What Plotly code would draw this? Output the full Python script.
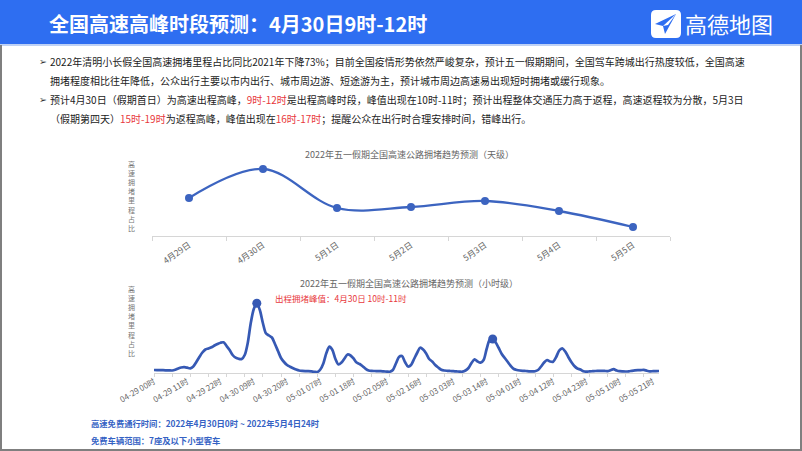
import plotly.graph_objects as go

W, H = 802, 451
def px(x):
    return x / W
def py(y):
    return 1 - y / H

FONT = "Noto Sans CJK SC"

# ---------------- data ----------------
days = ["4月29日", "4月30日", "5月1日", "5月2日", "5月3日", "5月4日", "5月5日"]
daily_values = [38.0, 67.0, 28.0, 29.0, 35.0, 25.0, 9.0]

dates = ["04-29", "04-30", "05-01", "05-02", "05-03", "05-04", "05-05"]
hour_labels = [f"{d} {h:02d}时" for d in dates for h in range(24)]

hourly_values = [
    # 04-29
    3.0, 2.9, 2.8, 2.8, 2.7, 2.6, 2.5, 3.2, 4.5, 5.5, 5.8, 5.3,
    4.7, 6.5, 11.0, 16.0, 20.5, 23.5, 24.5, 25.7, 27.5, 29.0, 30.3, 30.7,
    # 04-30
    27.0, 23.0, 18.0, 15.3, 14.2, 14.0, 18.0, 30.0, 50.0, 64.0, 69.7, 63.0,
    50.0, 39.7, 37.5, 35.5, 29.0, 22.0, 15.0, 11.0, 8.0, 6.3, 4.8, 3.5,
    # 05-01
    2.5, 2.1, 1.9, 1.8, 1.6, 1.2, 1.0, 3.5, 9.5, 20.0, 26.3, 23.0,
    14.0, 8.5, 10.5, 14.5, 18.5, 17.5, 14.5, 10.5, 9.0, 6.8, 4.2, 2.5,
    # 05-02
    2.1, 2.0, 1.9, 1.8, 1.6, 1.4, 1.3, 3.0, 9.5, 16.0, 17.0, 11.0,
    6.5, 8.0, 14.0, 20.0, 25.3, 23.5, 19.5, 14.0, 11.5, 8.0, 5.5, 3.2,
    # 05-03
    2.5, 2.2, 2.0, 1.8, 1.6, 1.4, 1.3, 2.5, 5.0, 10.0, 13.7, 11.5,
    10.3, 13.0, 24.0, 33.0, 34.0, 30.5, 25.0, 19.0, 15.0, 11.0, 7.0, 4.0,
    # 05-04
    3.0, 2.5, 2.2, 2.0, 1.7, 1.6, 1.8, 3.0, 6.5, 10.5, 13.0, 11.5,
    11.3, 16.0, 22.5, 24.7, 21.5, 16.0, 11.0, 7.0, 4.5, 3.5, 1.8, 1.3,
    # 05-05
    1.6, 1.8, 2.0, 2.1, 2.2, 2.1, 1.9, 2.8, 3.8, 2.5, 1.8, 1.6,
    1.5, 1.7, 2.2, 2.6, 2.8, 2.9, 3.1, 2.3, 1.7, 1.8, 1.9, 2.0,
]
peak_hours = ["04-30 10时", "05-03 16时"]

y_title = "高速拥堵里程占比"
chart1_title = "2022年五一假期全国高速公路拥堵趋势预测（天级）"
chart2_title = "2022年五一假期全国高速公路拥堵趋势预测（小时级）"
peak_note = "出程拥堵峰值：4月30日 10时-11时"
header_title = "全国高速高峰时段预测：4月30日9时-12时"
logo_text = "高德地图"

RED = "#e8383d"
bullets = [
    ("➢", "2022年清明小长假全国高速拥堵里程占比同比2021年下降73%；目前全国疫情形势依然严峻复杂，预计五一假期期间，全国驾车跨城出行热度较低，全国高速"),
    ("", "拥堵程度相比往年降低，公众出行主要以市内出行、城市周边游、短途游为主，预计城市周边高速易出现短时拥堵或缓行现象。"),
    ("➢", f"预计4月30日（假期首日）为高速出程高峰，<span style='color:{RED}'>9时-12时</span>是出程高峰时段，峰值出现在10时-11时；预计出程整体交通压力高于返程，高速返程较为分散，5月3日"),
    ("", f"（假期第四天）<span style='color:{RED}'>15时-19时</span>为返程高峰，峰值出现在<span style='color:{RED}'>16时-17时</span>；提醒公众在出行时合理安排时间，错峰出行。"),
]
notes = ["高速免费通行时间：2022年4月30日0时 ~ 2022年5月4日24时", "免费车辆范围：7座及以下小型客车"]

# ---------------- figure ----------------
LINE1 = "#3c64c0"
LINE2 = "#3659b4"
hx = list(range(len(hour_labels)))

fig = go.Figure()
fig.add_trace(go.Scatter(
    x=days, y=daily_values, mode="lines+markers",
    line=dict(color=LINE1, width=2.3, shape="spline", smoothing=1.0),
    marker=dict(color=LINE1, size=8),
    xaxis="x", yaxis="y", hoverinfo="skip", showlegend=False))
fig.add_trace(go.Scatter(
    x=hx, y=hourly_values, mode="lines",
    line=dict(color=LINE2, width=2.7, shape="spline", smoothing=0.8),
    xaxis="x2", yaxis="y2", hoverinfo="skip", showlegend=False))
pk_x = [hour_labels.index(h) for h in peak_hours]
fig.add_trace(go.Scatter(
    x=pk_x, y=[hourly_values[i] for i in pk_x], mode="markers",
    marker=dict(color=LINE2, size=9),
    xaxis="x2", yaxis="y2", hoverinfo="skip", showlegend=False))

AX = "#d6d6d6"
TICKF = dict(family=FONT, size=8.5, color="#666666")

fig.update_layout(
    width=W, height=H, autosize=False,
    margin=dict(l=0, r=0, t=0, b=0, pad=0, autoexpand=False),
    paper_bgcolor="white", plot_bgcolor="white",
    xaxis=dict(domain=[px(152), px(670)], anchor="y", type="category",
               range=[-0.5, 6.5], showgrid=False, zeroline=False, automargin=False,
               showline=True, linecolor=AX, linewidth=1,
               ticks="outside", tickson="boundaries", ticklen=4, tickcolor=AX,
               tickangle=-35, tickfont=TICKF),
    yaxis=dict(domain=[py(236), py(161)], anchor="x", range=[0, 75], automargin=False,
               showgrid=False, zeroline=False, showline=False,
               showticklabels=False, ticks=""),
    xaxis2=dict(domain=[px(154), px(659)], anchor="y2", range=[0, len(hx) - 1],
                showgrid=False, zeroline=False, showline=True, linecolor=AX,
                linewidth=1, tickvals=hx[::11], ticktext=hour_labels[::11],
                ticks="", tickangle=-30, automargin=False,
                tickfont=dict(family=FONT, size=8, color="#666666"),
                minor=dict(dtick=6, tick0=0, ticks="outside", ticklen=3,
                           tickcolor=AX, showgrid=False)),
    yaxis2=dict(domain=[py(373), py(298)], anchor="x2", range=[0, 75], automargin=False,
                showgrid=False, zeroline=False, showline=False,
                showticklabels=False, ticks=""),
)

shapes = [
    dict(type="rect", xref="paper", yref="paper", x0=0, x1=1, y0=py(44), y1=1,
         fillcolor="#2e6ef1", line=dict(width=0), layer="below"),
    dict(type="line", xref="paper", yref="paper", x0=0, x1=1, y0=py(45), y1=py(45),
         line=dict(color="#a8c2f2", width=1.5)),
    dict(type="line", xref="paper", yref="paper", x0=px(1), x1=px(1), y0=py(450), y1=py(45),
         line=dict(color="#7f7f7f", width=2)),
    dict(type="line", xref="paper", yref="paper", x0=px(801), x1=px(801), y0=py(450), y1=py(45),
         line=dict(color="#7f7f7f", width=2)),
    dict(type="line", xref="paper", yref="paper", x0=0, x1=1, y0=py(450), y1=py(450),
         line=dict(color="#7f7f7f", width=2)),
]
# logo icon (rounded white square with blue paper plane)
def P(x, y):
    return f"{px(x):.5f},{py(y):.5f}"
icon = (f"M {P(656,10)} L {P(676,10)} Q {P(681,10)} {P(681,15)} L {P(681,33)} "
        f"Q {P(681,38)} {P(676,38)} L {P(656,38)} Q {P(651,38)} {P(651,33)} "
        f"L {P(651,15)} Q {P(651,10)} {P(656,10)} Z")
shapes.append(dict(type="path", xref="paper", yref="paper", path=icon,
                   fillcolor="white", line=dict(width=0)))
plane = f"M {P(676,14)} L {P(655,24)} L {P(663,26)} L {P(665,34)} Z"
shapes.append(dict(type="path", xref="paper", yref="paper", path=plane,
                   fillcolor="#2e6ef1", line=dict(width=0)))
plane2 = f"M {P(676,14)} L {P(663,26)} L {P(668,25)} Z"
shapes.append(dict(type="path", xref="paper", yref="paper", path=plane2,
                   fillcolor="white", line=dict(width=0)))

ann = []
def A(text, x, y, size, color="#333333", xanchor="left", bold=False, **kw):
    ann.append(dict(text=f"<b>{text}</b>" if bold else text, x=px(x), y=py(y),
                    xref="paper", yref="paper", xanchor=xanchor, yanchor="middle",
                    showarrow=False, font=dict(family=FONT, size=size, color=color), **kw))

A(header_title, 47, 23, 20, "white", bold=True)
A(logo_text, 683, 23, 22, "white")

line_y = [62, 81, 100, 118]
for (mark, txt), yy in zip(bullets, line_y):
    if mark:
        ann.append(dict(text=mark, x=px(37), y=py(yy), xref="paper", yref="paper",
                        xanchor="left", yanchor="middle", showarrow=False,
                        font=dict(family="DejaVu Sans", size=9.5, color="#333333")))
    A(txt, 48, yy, 10, "#222222")

A(chart1_title, 409, 154, 9, "#666666", xanchor="center")
A(chart2_title, 409, 283, 9, "#666666", xanchor="center")
A(peak_note, 273, 298, 8.5, RED)

vertical_title = "<br>".join(y_title)
A(vertical_title, 131, 196, 7, "#777777", xanchor="center")
A(vertical_title, 131, 320.5, 7, "#777777", xanchor="center")

A(notes[0], 89, 423, 8.3, "#3562c4", bold=True)
A(notes[1], 89, 440, 8.3, "#3562c4", bold=True)

fig.update_layout(shapes=shapes, annotations=ann)
fig.write_html("out.html")
